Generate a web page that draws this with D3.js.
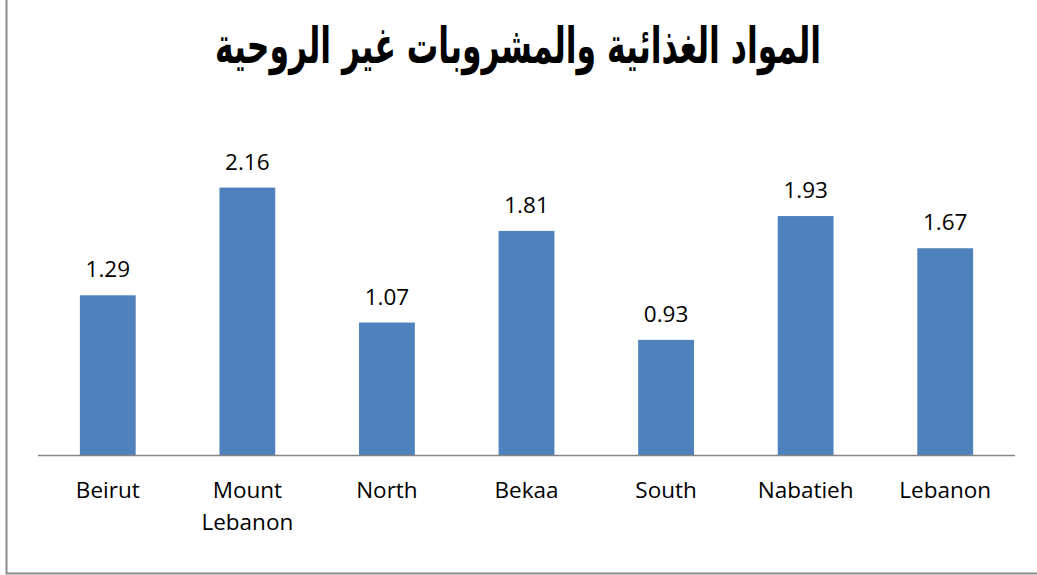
<!DOCTYPE html>
<html>
<head>
<meta charset="utf-8">
<script src="https://cdn.jsdelivr.net/npm/d3@7"></script>
<style>
  body { margin: 0; background: #fff; }
  svg { display: block; }
</style>
</head>
<body>
<div id="chart"></div>
<script>
// chart data
var title = "المواد الغذائية والمشروبات غير الروحية";
var regions = ["Beirut", "Mount Lebanon", "North", "Bekaa", "South", "Nabatieh", "Lebanon"];
var values = [1.29, 2.16, 1.07, 1.81, 0.93, 1.93, 1.67];

var W = 1037, H = 575;
var plot = {left: 38, right: 1015, top: 145.5, bottom: 455};
var labelFont = "'Open Sans', Lato, sans-serif";

var svg = d3.select("#chart").append("svg")
    .attr("width", W)
    .attr("height", H);

svg.append("rect").attr("width", W).attr("height", H).attr("fill", "#fff");

// frame (only left and bottom edges visible)
svg.append("path")
    .attr("d", "M6.5,0 V573.5 H" + W)
    .attr("fill", "none")
    .attr("stroke", "#8c8c8c")
    .attr("stroke-width", 2);

// scales
var x = d3.scaleBand()
    .domain(regions)
    .range([plot.left, plot.right])
    .paddingInner(0.6)
    .paddingOuter(0.3);

var y = d3.scaleLinear()
    .domain([0, 2.5])
    .range([plot.bottom, plot.top]);

// title: tall bold face, squeezed sideways to the reference width
var tg = svg.append("g");
var t = tg.append("text")
    .attr("x", 0)
    .attr("y", 0)
    .attr("text-anchor", "middle")
    .attr("direction", "rtl")
    .style("font-family", "'DejaVu Sans', sans-serif")
    .style("font-weight", "bold")
    .style("font-size", "50px")
    .attr("fill", "#000")
    .text(title);
var tw = t.node().getComputedTextLength() || 606;
tg.attr("transform", "translate(518,63) scale(" + (606 / tw) + ",1)");

// bars
svg.selectAll(".bar")
    .data(values)
    .join("rect")
    .attr("class", "bar")
    .attr("x", function(d, i){ return x(regions[i]); })
    .attr("y", function(d){ return y(d); })
    .attr("width", x.bandwidth())
    .attr("height", function(d){ return y(0) - y(d); })
    .attr("fill", "#4f81bd");

// baseline
svg.append("line")
    .attr("x1", plot.left).attr("x2", plot.right)
    .attr("y1", plot.bottom + 0.5).attr("y2", plot.bottom + 0.5)
    .attr("stroke", "#868686")
    .attr("stroke-width", 1.5);

// value labels
svg.selectAll(".val")
    .data(values)
    .join("text")
    .attr("class", "val")
    .attr("x", function(d, i){ return x(regions[i]) + x.bandwidth() / 2; })
    .attr("y", function(d){ return y(d) - 18; })
    .attr("text-anchor", "middle")
    .style("font-family", labelFont)
    .style("font-size", "22.5px")
    .attr("fill", "#000")
    .text(function(d){ return d3.format(".2f")(d); });

// category labels, wrapped on spaces for long names
var cat = svg.selectAll(".cat")
    .data(regions)
    .join("text")
    .attr("class", "cat")
    .attr("text-anchor", "middle")
    .style("font-family", labelFont)
    .style("font-size", "22.5px")
    .attr("fill", "#000");

cat.each(function(d){
    var el = d3.select(this);
    var cx = x(d) + x.bandwidth() / 2;
    var words = d.length > 10 ? d.split(" ") : [d];
    words.forEach(function(w, k){
        el.append("tspan")
            .attr("x", cx)
            .attr("y", 498 + k * 32)
            .text(w);
    });
});
</script>
</body>
</html>
